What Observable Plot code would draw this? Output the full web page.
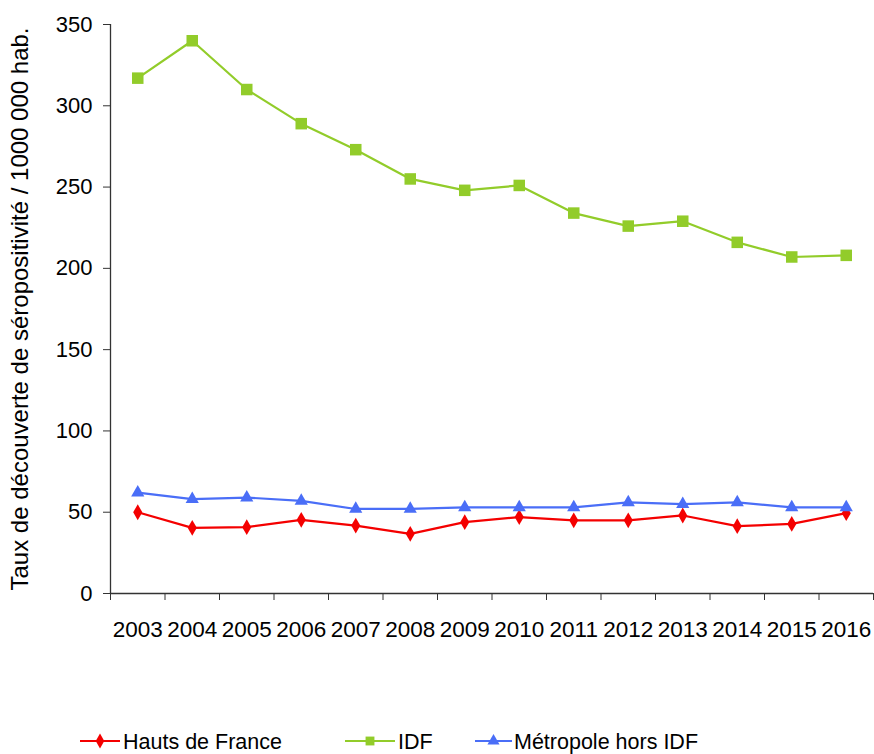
<!DOCTYPE html>
<html><head><meta charset="utf-8">
<script src="https://cdn.jsdelivr.net/npm/d3@7"></script>
<script src="https://cdn.jsdelivr.net/npm/@observablehq/plot@0.6"></script>
<style>
body{margin:0;background:#fff;font-family:"Liberation Sans",sans-serif;overflow:hidden;}
svg{display:block;}
#legend{width:874px;height:54px;}
</style>
</head><body>
<div id="chart"></div>
<svg id="legend" width="874" height="54"></svg>
<script>
const years = [2003,2004,2005,2006,2007,2008,2009,2010,2011,2012,2013,2014,2015,2016];
const hautsDeFrance = [50,40.4,40.8,45.3,41.8,36.7,43.9,47,45,45,48,41.4,42.8,49.4];
const idf = [317,340,310,289,273,255,248,251,234,226,229,216,207,208];
const metropoleHorsIdf = [62,58,59,57,52,52,53,53,53,56,55,56,53,53];
const seriesNames = ["Hauts de France","IDF","Métropole hors IDF"];
const seriesColors = ["#f40000","#92cc2a","#4a6ef7"];
const yTicks = [0,50,100,150,200,250,300,350];
const yLabel = "Taux de découverte de séropositivité / 1000 000 hab.";

const seriesValues = [hautsDeFrance, idf, metropoleHorsIdf];
const rows = seriesNames.flatMap((s, k) => years.map((yr, i) => ({series: s, year: yr, value: seriesValues[k][i]})));
const bySeries = s => rows.filter(d => d.series === s);
const bandEdges = d3.range(years[0] - 0.5, years[years.length - 1] + 1, 1);

const chart = Plot.plot({
  width: 874, height: 700,
  marginLeft: 110, marginRight: 1, marginTop: 24, marginBottom: 107,
  style: {fontFamily: "Liberation Sans", fontSize: "22px", color: "#000", background: "#fff"},
  x: {domain: [years[0] - 0.5, years[years.length - 1] + 0.5]},
  y: {domain: [0, 350]},
  color: {domain: seriesNames, range: seriesColors},
  marks: [
    Plot.axisY({ticks: yTicks, tickSize: 7, tickPadding: 11, stroke: "#333", label: null, fontSize: 22}),
    Plot.axisY({ticks: [], tickSize: 0, label: yLabel, labelAnchor: "center", labelArrow: "none", labelOffset: 100, fontSize: 24}),
    Plot.axisX({ticks: bandEdges, tickSize: 7, tickFormat: () => "", label: null, stroke: "#333"}),
    Plot.axisX({ticks: years, tickSize: 0, tickPadding: 28, tickFormat: d => String(d), label: null, fontSize: 22.5}),
    Plot.ruleX([years[0] - 0.5], {y1: 0, y2: 350, stroke: "#333", strokeWidth: 1.3}),
    Plot.ruleY([0], {stroke: "#333", strokeWidth: 1.3}),
    Plot.line(rows, {x: "year", y: "value", z: "series", stroke: "series", strokeWidth: 2.2}),
    Plot.dot(bySeries("Hauts de France"), {x: "year", y: "value", fill: "series", symbol: d3.symbolDiamond, r: 4.8}),
    Plot.dot(bySeries("IDF"), {x: "year", y: "value", fill: "series", symbol: "square", r: 6.5}),
    Plot.dot(bySeries("Métropole hors IDF"), {x: "year", y: "value", fill: "series", symbol: "triangle", r: 4.9})
  ]
});
document.getElementById("chart").appendChild(chart);

// Legend
const leg = d3.select("#legend");
const legendItems = [
  {x1: 80, x2: 120, tx: 123, sym: d3.symbolDiamond, size: Math.PI*4.5*4.5},
  {x1: 345, x2: 395, tx: 398, sym: d3.symbolSquare, size: Math.PI*5*5},
  {x1: 475, x2: 512, tx: 514, sym: d3.symbolTriangle, size: Math.PI*4.5*4.5}
];
legendItems.forEach((it, i) => {
  const g = leg.append("g");
  const cy = 41;
  g.append("line").attr("x1", it.x1).attr("x2", it.x2).attr("y1", cy).attr("y2", cy)
    .attr("stroke", seriesColors[i]).attr("stroke-width", 2.2);
  g.append("path").attr("d", d3.symbol(it.sym, it.size)()).attr("fill", seriesColors[i])
    .attr("transform", `translate(${(it.x1+it.x2)/2},${cy})`);
  g.append("text").attr("x", it.tx).attr("y", cy).attr("dy", "0.35em")
    .attr("font-family", "Liberation Sans").attr("font-size", 21.5).text(seriesNames[i]);
});
</script>
</body></html>
